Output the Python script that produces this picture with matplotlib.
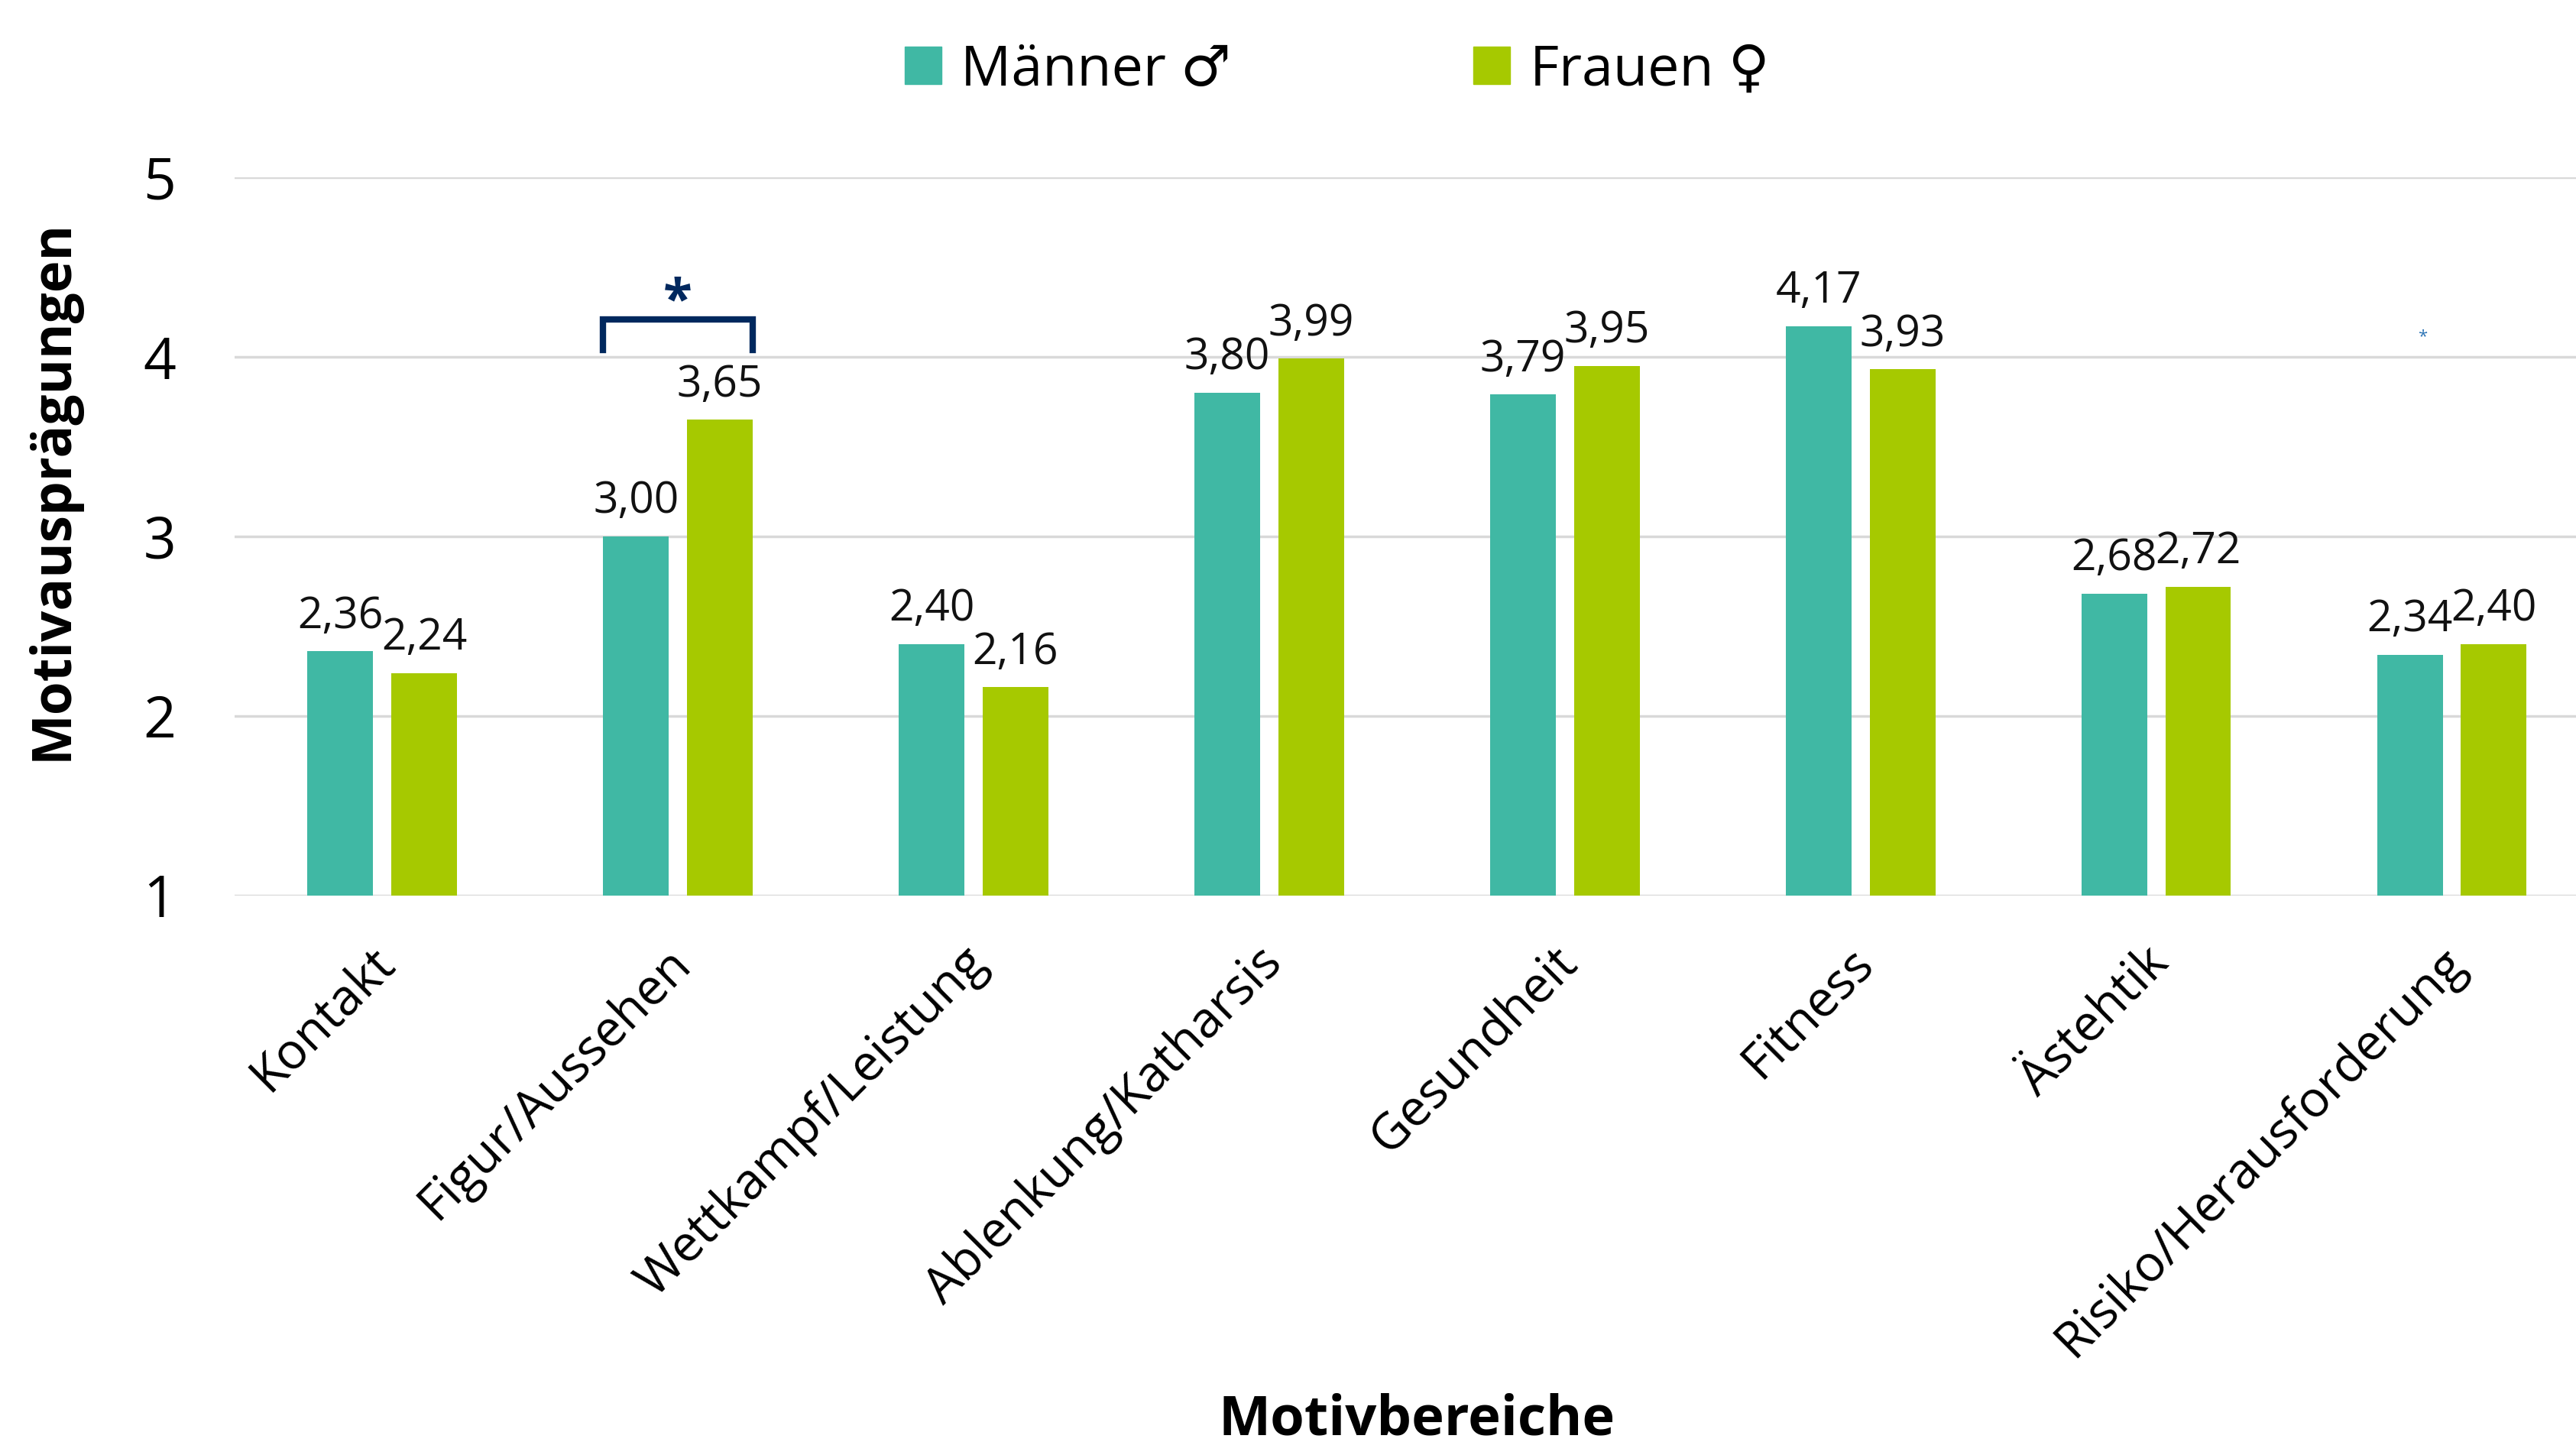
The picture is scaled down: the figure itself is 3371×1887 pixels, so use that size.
import matplotlib
matplotlib.use("Agg")
import matplotlib.pyplot as plt
from matplotlib.patches import Patch
from matplotlib.transforms import ScaledTranslation, blended_transform_factory
import numpy as np

plt.rcParams['font.family'] = ['Open Sans', 'DejaVu Sans']

# Daten
kategorien = ["Kontakt", "Figur/Aussehen", "Wettkampf/Leistung", "Ablenkung/Katharsis",
              "Gesundheit", "Fitness", "Ästehtik", "Risiko/Herausforderung"]
maenner = [2.36, 3.00, 2.40, 3.80, 3.79, 4.17, 2.68, 2.34]
frauen = [2.24, 3.65, 2.16, 3.99, 3.95, 3.93, 2.72, 2.40]
serien = ["Männer ♂", "Frauen ♀"]
y_ticks = [1, 2, 3, 4, 5]

farbe_m = "#40B8A4"
farbe_f = "#A6C900"
navy = "#00285E"

fig = plt.figure(figsize=(33.71, 18.87), dpi=100)
ax = fig.add_axes([0.091, 0.379, 0.909, 0.498])

x = np.arange(len(kategorien))
breite = 0.222
abstand = 0.062
off = (breite + abstand) / 2

bars_m = ax.bar(x - off, np.array(maenner) - 1, breite, bottom=1, color=farbe_m, zorder=3)
bars_f = ax.bar(x + off, np.array(frauen) - 1, breite, bottom=1, color=farbe_f, zorder=3)

def beschriften(bars, werte):
    for b, w in zip(bars, werte):
        ax.annotate(f"{w:.2f}".replace(".", ","),
                    (b.get_x() + b.get_width() / 2, w),
                    xytext=(0, 12), textcoords="offset points",
                    ha="center", va="bottom", fontsize=41, color="#111111")

beschriften(bars_m, maenner)
beschriften(bars_f, frauen)

ax.set_ylim(1, 5)
ax.set_xlim(-0.5, 7.42)
ax.set_yticks(y_ticks)
ax.set_yticklabels([str(t) for t in y_ticks], fontsize=54)
ax.set_xticks(x)
ax.set_xticklabels([])
ax.tick_params(axis="y", length=0, pad=55)
ax.tick_params(axis="x", length=0)
ax.grid(axis="y", color="#D9D9D9", linewidth=2.5, zorder=0)
for s in ax.spines.values():
    s.set_visible(False)

# Kategorien schräg, leicht nach links versetzt
trans = blended_transform_factory(ax.transData, ax.transAxes) + \
    ScaledTranslation(-12 / 72, -40 / 72, fig.dpi_scale_trans)
for xi, name in zip(x, kategorien):
    ax.text(xi, 0, name, transform=trans, rotation=45, ha="right", va="top",
            rotation_mode="anchor", fontsize=47)

ax.set_ylabel("Motivausprägungen", fontsize=51, fontweight="bold")
ax.yaxis.set_label_coords(-0.066, 0.565)
fig.text(0.55, 0.015, "Motivbereiche", ha="center", va="center",
         fontsize=52, fontweight="bold")

# Signifikanz-Klammer bei Figur/Aussehen
i = 1
links = x[i] - off - breite / 2
rechts = x[i] + off + breite / 2
ax.plot([links, links, rechts, rechts], [4.04, 4.21, 4.21, 4.04],
        color=navy, linewidth=6, solid_joinstyle="miter", zorder=4, clip_on=False)
ax.text(x[i], 4.30, "*", ha="center", va="center", fontsize=50,
        fontweight="bold", color=navy)

# kleiner Stern bei Risiko
ax.text(6.9, 4.11, "*", ha="center", va="center", fontsize=16, color="#2E75B6")

handles = [Patch(color=farbe_m), Patch(color=farbe_f)]
fig.legend(handles, serien, loc="center", bbox_to_anchor=(0.519, 0.951), ncol=2,
           frameon=False, fontsize=53, handlelength=0.65, handleheight=0.65,
           handletextpad=0.35, columnspacing=4.3)

fig.savefig("out.png", dpi=100)
